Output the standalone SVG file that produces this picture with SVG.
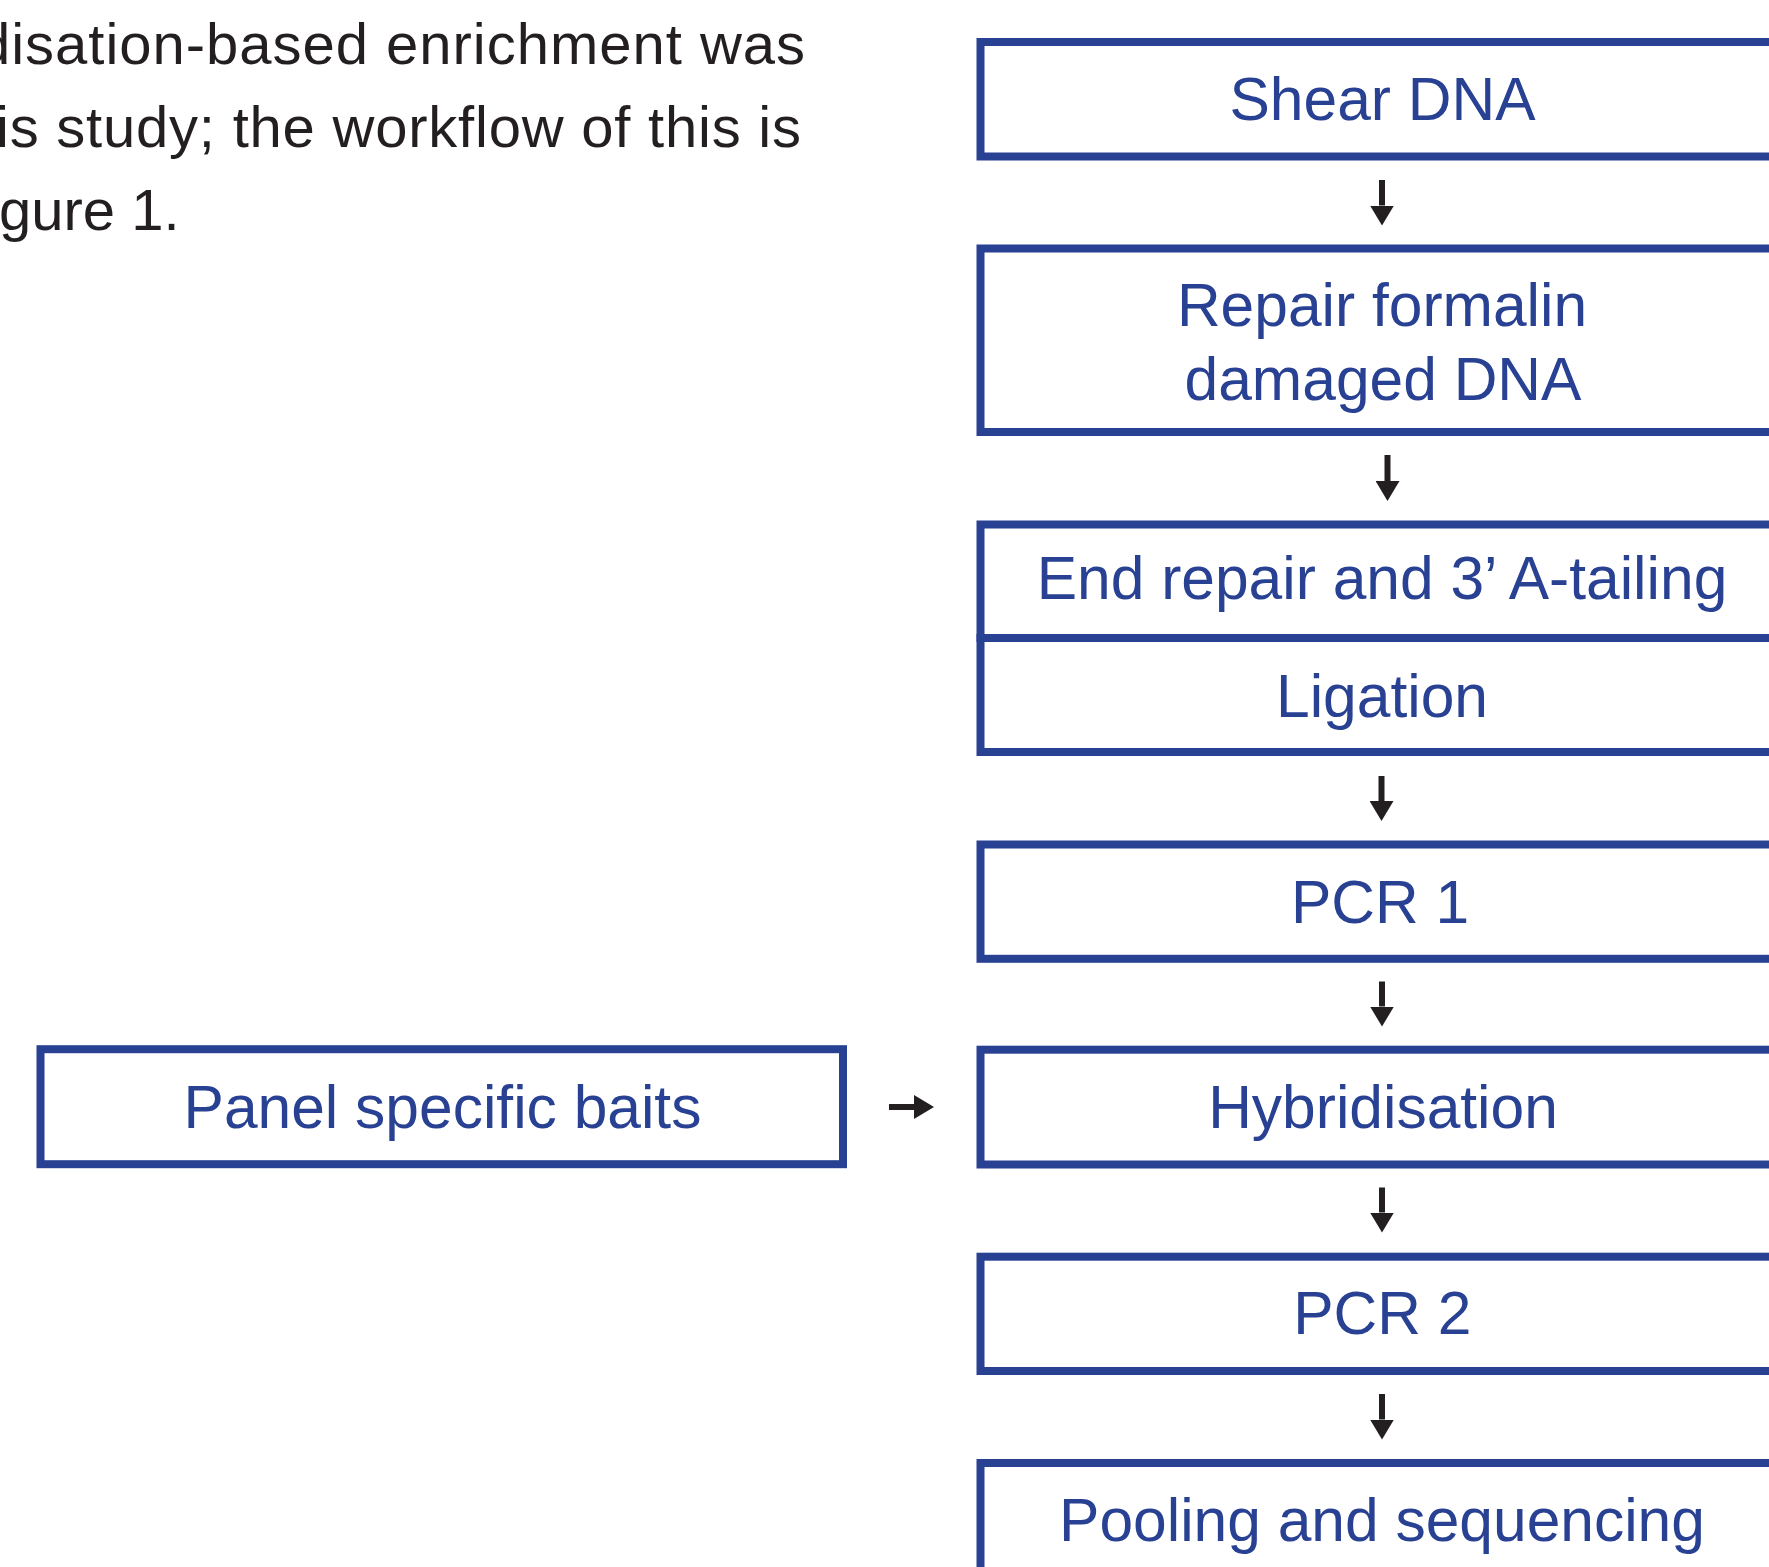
<svg xmlns="http://www.w3.org/2000/svg" width="1769" height="1567" viewBox="0 0 1769 1567">
  <style>
    .box { fill: #ffffff; stroke: #284193; stroke-width: 8; }
    .lbl { font-family: "Liberation Sans", Arial, sans-serif; font-size: 60.5px; fill: #284193; text-anchor: middle; }
    .body { font-family: "Liberation Sans", Arial, sans-serif; font-size: 58px; fill: #231f20; }
    .conn { stroke: #231f20; stroke-width: 6; fill: none; marker-end: url(#ah); }
  </style>
  <defs>
    <marker id="ah" viewBox="0 0 20 24" markerWidth="20" markerHeight="24" refX="0" refY="12" orient="auto" markerUnits="userSpaceOnUse">
      <path d="M0,0 L20,12 L0,24 Z" fill="#231f20"/>
    </marker>
  </defs>
  <rect width="1769" height="1567" fill="#ffffff"/>

  <g id="body-text">
    <text class="body" x="-22" y="64" textLength="827" lengthAdjust="spacing">disation-based enrichment was</text>
    <text class="body" x="-4" y="147" textLength="805" lengthAdjust="spacing">is study; the workflow of this is</text>
    <text class="body" x="-1" y="230">gure 1.</text>
  </g>

  <g id="connectors">
    <line class="conn" x1="1382" y1="180" x2="1382" y2="205.5"/>
    <line class="conn" x1="1387.5" y1="455" x2="1387.5" y2="481"/>
    <line class="conn" x1="1381.5" y1="776" x2="1381.5" y2="801"/>
    <line class="conn" x1="1382" y1="981.5" x2="1382" y2="1006.5"/>
    <line class="conn" x1="1382" y1="1187.5" x2="1382" y2="1212.5"/>
    <line class="conn" x1="1382" y1="1394" x2="1382" y2="1419.5"/>
    <line class="conn" x1="889" y1="1107" x2="914" y2="1107"/>
  </g>

  <g id="node-shear">
    <rect class="box" x="980.5" y="42" width="820" height="114.5"/>
    <text class="lbl" x="1382.5" y="120">Shear DNA</text>
  </g>
  <g id="node-repair">
    <rect class="box" x="980.5" y="248.5" width="820" height="183.5"/>
    <text class="lbl" x="1382" y="326">Repair formalin</text>
    <text class="lbl" x="1383" y="399.5">damaged DNA</text>
  </g>
  <g id="node-endrepair">
    <rect class="box" x="980.5" y="524.5" width="820" height="113.5"/>
    <text class="lbl" x="1382" y="598.5">End repair and 3’ A-tailing</text>
  </g>
  <g id="node-ligation">
    <rect class="box" x="980.5" y="638" width="820" height="114"/>
    <text class="lbl" x="1382" y="716.5">Ligation</text>
  </g>
  <g id="node-pcr1">
    <rect class="box" x="980.5" y="844.5" width="820" height="114.3"/>
    <text class="lbl" x="1380" y="922.7">PCR 1</text>
  </g>
  <g id="node-hyb">
    <rect class="box" x="980.5" y="1049.7" width="820" height="114.8"/>
    <text class="lbl" x="1383" y="1128.3">Hybridisation</text>
  </g>
  <g id="node-pcr2">
    <rect class="box" x="980.5" y="1256.7" width="820" height="114.3"/>
    <text class="lbl" x="1382.3" y="1334.3">PCR 2</text>
  </g>
  <g id="node-pooling">
    <rect class="box" x="980.5" y="1463" width="820" height="150"/>
    <text class="lbl" x="1382" y="1540.7">Pooling and sequencing</text>
  </g>
  <g id="node-baits">
    <rect class="box" x="40.5" y="1049.2" width="802.5" height="115"/>
    <text class="lbl" x="442.5" y="1128.3">Panel specific baits</text>
  </g>
</svg>
